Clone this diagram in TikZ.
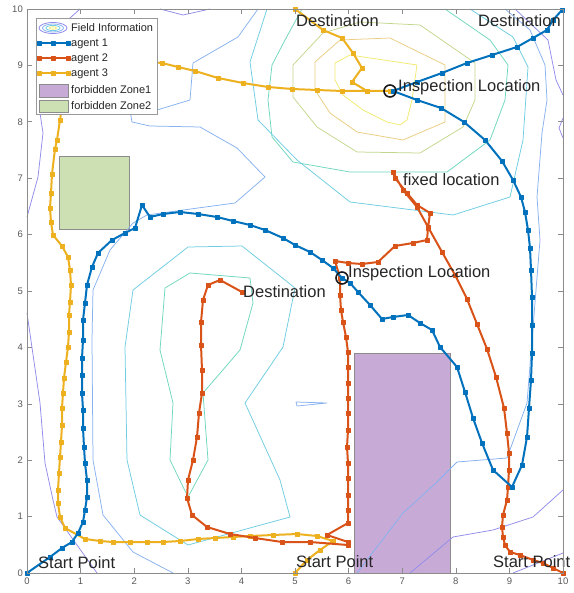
\documentclass[tikz,border=0pt]{standalone}
\usepackage{fontspec}
\setmainfont{Liberation Sans}
\usetikzlibrary{plotmarks}
\definecolor{ablue}{rgb}{0,0.447,0.741}
\definecolor{ared}{rgb}{0.85,0.325,0.098}
\definecolor{ayel}{rgb}{0.929,0.694,0.125}
\definecolor{cA}{RGB}{145,140,235}
\definecolor{cB}{RGB}{135,178,240}
\definecolor{cC}{RGB}{110,205,225}
\definecolor{cD}{RGB}{110,215,190}
\definecolor{cE}{RGB}{195,215,140}
\definecolor{cF}{RGB}{235,205,130}
\definecolor{cG}{RGB}{240,235,110}
\definecolor{zoneA}{RGB}{200,170,214}
\definecolor{zoneB}{RGB}{205,224,180}
\begin{document}
\begin{tikzpicture}[x=1pt,y=-1pt,
  contour/.style={line width=0.75pt,line join=round},
  agent/.style={line width=2pt,line join=round,mark=square*,mark size=1.9pt,mark options={line width=0.4pt}},
  lbl/.style={font=\fontsize{16.5}{18}\selectfont,text=black!85,inner sep=0pt},
  ticklbl/.style={font=\fontsize{9.5}{10}\selectfont,text=black!65,inner sep=0pt},
  leglbl/.style={font=\fontsize{11}{12}\selectfont,text=black!85,inner sep=0pt,anchor=west},
  axisline/.style={draw=black!45,line width=0.6pt},
  zonebox/.style={draw=black!45,line width=0.6pt},
  inspect/.style={circle,draw=black!90,line width=1.6pt,minimum size=12pt,inner sep=0pt}]
\useasboundingbox (0,0) rectangle (573,593);
\fill[white] (0,0) rectangle (573,593);
% forbidden zones
\fill[zoneA,zonebox] (354,573) rectangle (450,353);
\fill[zoneB,zonebox] (59,229) rectangle (129,156);
% contours
\draw[contour,cG] (335,63)--(350,55)--(417,65)--(412,100)--(407,120)--(400,125)--(387,122)--(363,110)--(343,95)--(335,80)--cycle;
\draw[contour,cF] (315,62)--(340,40)--(390,38)--(445,65)--(445,122)--(403,140)--(357,132)--(330,113)--(315,90)--cycle;
\draw[contour,cE] (293,65)--(323,33)--(360,22)--(420,25)--(475,63)--(475,100)--(463,127)--(420,153)--(357,152)--(317,127)--(293,97)--cycle;
\draw[contour,cD] (302,9)--(285,40)--(272,65)--(268,100)--(272,137)--(293,162)--(350,172)--(447,172)--(490,140)--(505,100)--(508,65)--(490,40)--(445,9);
\draw[contour,cC] (267,9)--(250,62)--(258,120)--(297,160)--(350,202)--(453,215)--(510,197)--(523,140)--(528,67)--(513,37)--(470,9);
\draw[contour,cC] (188,247)--(242,246)--(295,288)--(283,347)--(245,403)--(280,480)--(290,517)--(188,545)--(140,515)--(127,460)--(125,347)--(133,290)--cycle;
\draw[contour,cD] (190,273)--(250,278)--(253,303)--(240,350)--(203,393)--(208,460)--(188,497)--(170,460)--(173,403)--(160,350)--(165,288)--cycle;
\draw[contour,cB] (173,573)--(133,552)--(103,515)--(93,460)--(92,340)--(93,290)--(110,250)--(133,223)--(147,215)--(198,208)--(235,203)--(265,177)--(237,148)--(200,127)--(150,126)--(132,122)--(130,110)--(145,108)--(157,110)--(190,100)--(193,63)--(238,37)--(258,9);
\draw[contour,cB] (357,573)--(403,513)--(437,482)--(457,462)--(507,458)--(527,403)--(540,240)--(537,197)--(542,133)--(547,100)--(545,65)--(530,30)--(505,9);
\draw[contour,cB] (296,402)--(327,403)--(297,406)--cycle;
\draw[contour,cA] (80,9)--(70,18)--(50,60)--(40,113)--(43,133)--(38,177)--(27,217);
\draw[contour,cA] (160,9)--(183,15)--(210,9);
\draw[contour,cA] (27,313)--(40,403)--(45,463)--(53,500)--(57,517)--(97,573);
\draw[contour,cA] (410,573)--(453,537)--(493,530)--(533,517)--(563,490);
\draw[contour,cA] (513,573)--(563,553);
\draw[contour,cA] (515,9)--(548,40)--(556,80)--(563,95);
\draw[contour,cA] (563,118)--(559,128)--(563,138);
% agent 3
\draw[agent,ayel] plot coordinates {(295,573) (307,560) (320,550) (333,541) (317,536) (297,534) (273,535) (250,536) (233,537) (215,538) (198,539) (180,541) (163,542) (147,542) (130,542) (113,542) (100,541) (85,539) (65,528) (60,517) (58,503) (58,490) (59,473) (60,457) (61,442) (62,425) (62,408) (63,393) (64,378) (66,362) (68,347) (69,332) (69,315) (70,302) (71,285) (70,270) (68,257) (62,246) (53,235) (51,222) (50,208) (51,193) (52,174) (55,149) (57,140) (60,120) (63,100) (90,70) (150,62) (162,63) (178,67) (195,71) (218,78) (243,83) (268,87) (292,89) (317,90) (342,91) (367,91) (390,91) (367,91) (352,82) (362,68) (353,53) (342,38) (323,30) (295,9)};
% agent 2
\draw[agent,ared] plot coordinates {(563,573) (553,568) (543,563) (533,560) (520,555) (510,552) (505,545) (503,537) (502,527) (503,515) (507,500) (508,487) (509,470) (509,453) (507,433) (504,408) (496,377) (487,349) (477,324) (467,299) (455,275) (442,252) (428,227) (417,207) (403,190) (393,172) (395,178) (407,193) (417,205) (430,213) (428,228) (427,240) (413,243) (395,246) (378,262) (362,264) (348,263) (335,261) (340,278) (340,295) (341,310) (343,322) (346,337) (348,352) (348,367) (348,383) (348,398) (348,413) (348,430) (347,447) (348,463) (348,478) (348,495) (348,510) (348,523) (327,535) (348,542) (348,545) (310,542) (282,542) (255,538) (230,534) (207,527) (192,515) (187,498) (188,480) (193,460) (197,437) (199,413) (202,393) (202,370) (201,345) (201,322) (203,300) (208,285) (220,280) (242,292)};
% agent 1
\draw[agent,ablue] plot coordinates {(27,573) (50,557) (62,548) (72,542) (78,533) (83,522) (85,510) (87,497) (87,480) (85,463) (84,447) (83,428) (83,410) (82,393) (82,375) (82,358) (83,340) (83,320) (85,303) (87,285) (92,267) (98,253) (112,240) (125,233) (135,228) (142,205) (150,217) (163,214) (180,212) (198,214) (217,217) (233,221) (250,225) (265,230) (283,238) (295,245) (310,252) (322,260) (333,268) (342,278) (350,283) (358,292) (370,305) (382,319) (393,317) (408,315) (420,323) (432,330) (440,347) (457,367) (465,392) (473,418) (482,443) (493,470) (512,487) (522,465) (527,437) (529,408) (531,380) (532,353) (532,325) (532,297) (531,270) (530,248) (528,230) (525,212) (521,197) (513,180) (502,161) (485,140) (464,122) (441,108) (417,100) (393,91) (417,82) (442,73) (467,63) (492,55) (517,47) (533,38) (547,30) (553,20) (562,10)};
% inspection circles
\node[inspect] (insA) at (390,91) {};
\node[inspect] (insB) at (342,278) {};
% labels
\node[lbl,anchor=west] (destA) at (296,21) {Destination};
\node[lbl,anchor=west] (destB) at (478,21) {Destination};
\node[lbl,anchor=west] (inspA) at (398,87) {Inspection Location};
\node[lbl,anchor=west] (fixed) at (403,180) {fixed location};
\node[lbl,anchor=west] (inspB) at (348,273) {Inspection Location};
\node[lbl,anchor=west] (destC) at (243,292) {Destination};
\node[lbl,anchor=west] (startA) at (38,563) {Start Point};
\node[lbl,anchor=west] (startB) at (296,562) {Start Point};
\node[lbl,anchor=west] (startC) at (493,562) {Start Point};
% axes
\draw[axisline] (27,9) rectangle (563,573);
\foreach \i in {0,...,10} {
  \pgfmathsetmacro\xx{27+53.6*\i}
  \pgfmathsetmacro\yy{573-56.4*\i}
  \draw[axisline] (\xx,573)--(\xx,568) (\xx,9)--(\xx,14);
  \draw[axisline] (27,\yy)--(32,\yy) (563,\yy)--(558,\yy);
  \node[ticklbl,anchor=north] (xt\i) at (\xx,578) {\i};
  \node[ticklbl,anchor=east] (yt\i) at (23,\yy) {\i};
}
% legend
\draw[fill=white,draw=black!40,line width=0.6pt] (36,18) rectangle (157,114);
\draw[cA,line width=0.8pt] (53,28) ellipse (14pt and 5.5pt);
\draw[cB,line width=0.8pt] (53,28) ellipse (10.5pt and 4pt);
\draw[cC,line width=0.8pt] (53,28) ellipse (7pt and 2.6pt);
\draw[cG,line width=0.8pt] (53,28) ellipse (3.5pt and 1.2pt);
\node[leglbl] (lgA) at (71,28) {Field Information};
\draw[agent,ablue] plot coordinates {(39,43) (53.5,43) (68,43)};
\node[leglbl] (lgB) at (71,43.5) {agent 1};
\draw[agent,ared] plot coordinates {(39,58.5) (53.5,58.5) (68,58.5)};
\node[leglbl] (lgC) at (71,59) {agent 2};
\draw[agent,ayel] plot coordinates {(39,73) (53.5,73) (68,73)};
\node[leglbl] (lgD) at (71,73.5) {agent 3};
\fill[zoneA,zonebox] (39,84) rectangle (68,97);
\node[leglbl] (lgE) at (71,90) {forbidden Zone1};
\fill[zoneB,zonebox] (39,100) rectangle (68,112);
\node[leglbl] (lgF) at (71,106) {forbidden Zone2};
\end{tikzpicture}
\end{document}
